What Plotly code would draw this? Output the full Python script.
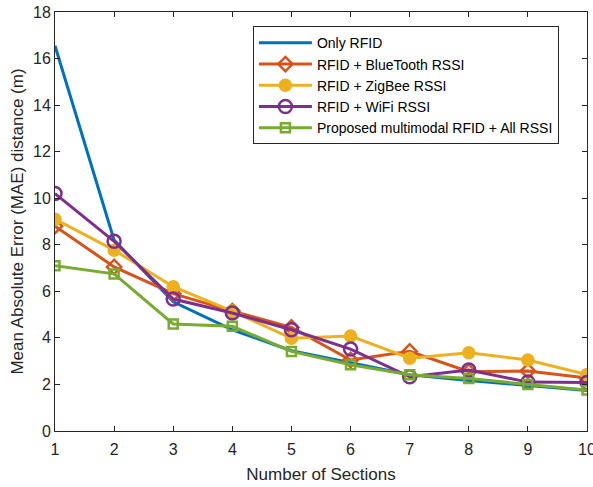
import plotly.graph_objects as go

sections = [1, 2, 3, 4, 5, 6, 7, 8, 9, 10]
only_rfid = [16.55, 8.2, 5.55, 4.35, 3.45, 2.95, 2.42, 2.17, 1.95, 1.74]
bluetooth = [8.8, 7.05, 5.9, 5.15, 4.45, 3.05, 3.42, 2.55, 2.58, 2.28]
zigbee = [9.1, 7.77, 6.2, 5.15, 3.98, 4.08, 3.13, 3.36, 3.05, 2.43]
wifi = [10.2, 8.15, 5.67, 5.07, 4.35, 3.52, 2.33, 2.62, 2.1, 2.08]
proposed = [7.1, 6.75, 4.6, 4.5, 3.42, 2.85, 2.42, 2.26, 2.0, 1.76]

names = ["Only RFID", "RFID + BlueTooth RSSI", "RFID + ZigBee RSSI",
         "RFID + WiFi RSSI", "Proposed multimodal RFID + All RSSI"]
colors = ["#0072BD", "#D95319", "#EDB120", "#7E2F8E", "#77AC30"]
symbols = [None, "diamond-open", "circle", "circle-open", "square-open"]
sizes = [0, 11, 11, 13, 9]

fig = go.Figure()
for ys, name, c, s, sz in zip([only_rfid, bluetooth, zigbee, wifi, proposed],
                              names, colors, symbols, sizes):
    if s is None:
        fig.add_trace(go.Scatter(x=sections, y=ys, name=name, mode="lines",
                                 line=dict(color=c, width=3)))
    else:
        fig.add_trace(go.Scatter(x=sections, y=ys, name=name, mode="lines+markers",
                                 line=dict(color=c, width=3),
                                 marker=dict(symbol=s, size=sz, color=c,
                                             line=dict(color=c, width=2.5))))

axis_common = dict(showgrid=False, zeroline=False, showline=True, mirror="ticks",
                   linecolor="#262626", linewidth=1, ticks="inside", ticklen=5,
                   tickcolor="#262626", tickfont=dict(size=16, color="#262626"),
                   automargin=False, ticklabeloverflow="allow")

fig.update_layout(
    width=593, height=487,
    margin=dict(l=55, r=6, t=12, b=56),
    paper_bgcolor="white", plot_bgcolor="white",
    font=dict(family="Liberation Sans, Arial, sans-serif", color="#262626"),
    showlegend=True,
    legend=dict(x=0.372, y=0.966, xanchor="left", yanchor="top",
                bordercolor="#262626", borderwidth=1, bgcolor="white",
                font=dict(size=14, color="#000000"), tracegroupgap=0,
                itemwidth=53),
    xaxis=dict(range=[1, 10], tickvals=sections, ticklabelstandoff=4,
               title=dict(text="Number of Sections", font=dict(size=17), standoff=10),
               **axis_common),
    yaxis=dict(range=[0, 18], tickvals=list(range(0, 19, 2)),
               title=dict(text="Mean Absolute Error (MAE) distance (m)",
                          font=dict(size=17), standoff=5), **axis_common),
)
fig.write_html("out.html", config={"displayModeBar": False},
               post_script="document.body.style.margin='0';")
